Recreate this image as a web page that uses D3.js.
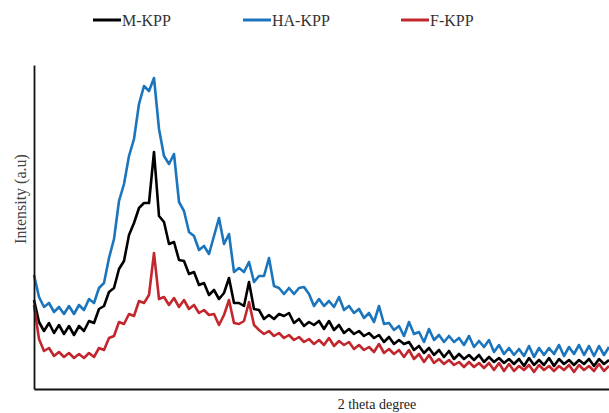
<!DOCTYPE html>
<html>
<head>
<meta charset="utf-8">
<script src="https://cdn.jsdelivr.net/npm/d3@7"></script>
<style>
  body { margin: 0; background: #fff; }
</style>
</head>
<body>
<div id="chart"></div>
<script>
const theta = d3.range(5, 62.51, 0.5);

const seriesNames = ["M-KPP", "HA-KPP", "F-KPP"];
const seriesColors = ["#000000", "#1b75bc", "#c1272d"];

const mKPP = [178,134,116,132,112,128,110,126,108,126,116,136,132,160,166,194,202,240,256,308,
  332,362,372,372,474,346,334,290,294,258,256,230,234,208,212,188,198,180,192,222,
  172,172,166,214,160,158,140,148,140,150,146,152,132,140,126,134,128,136,120,136,
  118,128,112,120,110,116,106,112,102,108,94,104,90,98,90,94,78,86,72,82,
  68,78,64,76,60,70,60,68,58,68,54,64,54,62,52,60,50,60,46,62,
  48,58,48,62,46,60,50,58,48,58,50,60,46,60,50,58];

const haKPP = [228,184,164,172,154,164,150,166,150,168,158,180,172,202,212,262,300,376,410,466,
  500,570,606,596,622,520,466,450,470,374,356,314,306,278,286,270,306,342,290,310,
  234,242,234,254,214,226,226,262,206,202,190,202,190,202,204,190,166,180,166,176,
  164,184,158,166,152,160,142,152,134,166,130,132,118,126,106,134,110,114,94,120,
  98,108,94,106,94,102,88,106,84,96,84,98,74,88,70,82,68,80,66,86,
  64,82,68,82,70,88,66,84,70,88,68,86,66,86,68,84];

const fKPP = [168,100,76,82,66,74,64,72,62,70,62,72,64,82,78,102,106,134,130,150,
  146,176,172,188,272,180,184,168,182,164,178,160,168,152,158,148,150,128,148,178,
  132,130,136,174,128,118,110,116,106,112,102,108,98,104,94,100,90,98,88,102,
  86,96,88,94,80,88,78,84,74,90,72,80,70,78,64,78,60,70,54,68,
  52,60,50,58,48,54,44,54,44,52,42,52,38,52,36,50,36,46,38,48,
  34,48,38,46,36,46,38,48,34,48,38,46,36,50,36,46];

const allSeries = [mKPP, haKPP, fKPP];

const width = 609, height = 413;
const margin = {top: 65, right: 0, bottom: 24, left: 34};
const serif = "'Liberation Serif', 'Times New Roman', Times, 'DejaVu Serif', serif";

const svg = d3.select("#chart").append("svg")
    .attr("width", width)
    .attr("height", height)
    .attr("font-family", serif);

const x = d3.scaleLinear().domain([5, 62.5]).range([margin.left, width - margin.right]);
const y = d3.scaleLinear().domain([0, 648]).range([height - margin.bottom, margin.top]);

const line = d3.line()
    .x(function(d){ return x(d[0]); })
    .y(function(d){ return y(d[1]); });

// blue underneath, then black, red on top
[1, 0, 2].forEach(function(k){
  const pts = theta.map(function(t, i){ return [t, allSeries[k][i]]; })
      .filter(function(p){ return p[1] !== undefined; });
  svg.append("path")
      .datum(pts)
      .attr("fill", "none")
      .attr("stroke", seriesColors[k])
      .attr("stroke-width", 2.6)
      .attr("stroke-linejoin", "round")
      .attr("d", line);
});

// axes, no ticks
svg.append("g")
    .attr("transform", `translate(0,${height - margin.bottom})`)
    .call(d3.axisBottom(x).tickValues([]).tickSizeOuter(0))
    .select(".domain").attr("stroke", "#111").attr("stroke-width", 1.8);

svg.append("g")
    .attr("transform", `translate(${margin.left},0)`)
    .call(d3.axisLeft(y).tickValues([]).tickSizeOuter(0))
    .select(".domain").attr("stroke", "#111").attr("stroke-width", 1.8);

svg.append("text")
    .attr("x", 377)
    .attr("y", 409)
    .attr("text-anchor", "middle")
    .attr("font-family", serif)
    .attr("font-size", "14px")
    .attr("fill", "#222")
    .text("2 theta degree");

svg.append("text")
    .attr("transform", "translate(26,199) rotate(-90)")
    .attr("text-anchor", "middle")
    .attr("font-family", serif)
    .attr("font-size", "16px")
    .attr("fill", "#444")
    .text("Intensity (a.u)");

// legend
const legendX = [93, 243, 401];
const legend = svg.selectAll(".legend")
    .data(seriesNames)
    .enter().append("g")
    .attr("class", "legend")
    .attr("transform", function(d, i){ return `translate(${legendX[i]},20)`; });

legend.append("line")
    .attr("x1", 0).attr("x2", 28)
    .attr("y1", 0).attr("y2", 0)
    .attr("stroke", function(d, i){ return seriesColors[i]; })
    .attr("stroke-width", 3);

legend.append("text")
    .attr("x", 29)
    .attr("y", 6)
    .attr("font-family", serif)
    .attr("font-size", "16px")
    .attr("fill", "#333")
    .text(function(d){ return d; });
</script>
</body>
</html>
